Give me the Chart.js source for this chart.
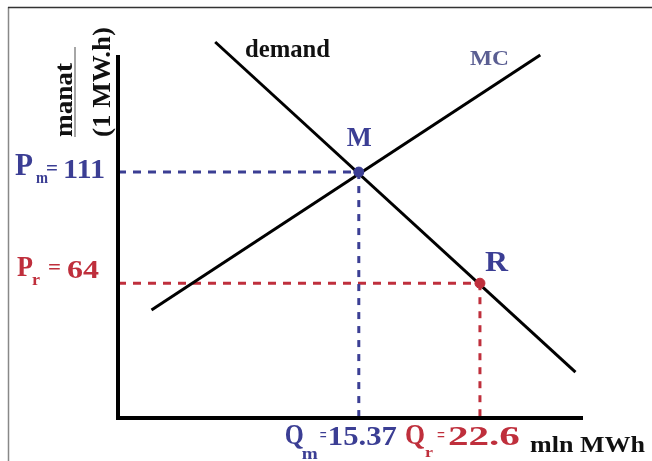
<!DOCTYPE html>
<html>
<head>
<meta charset="utf-8">
<script src="https://cdn.jsdelivr.net/npm/chart.js@4/dist/chart.umd.min.js"></script>
<style>
  html, body { margin: 0; padding: 0; background: #fff; }
  canvas { display: block; }
</style>
</head>
<body>
<canvas id="chart" width="652" height="461"></canvas>
<script>
// quantity (mln MWh) and price (manat per MW.h)
const axisOrigin = { q: 1, p: 7 };
const axisEnd = { q: 28.75, p: 160.5 };
const demandQ = [6.8, 28.3];
const demandP = [166, 26.4];
const mcQ = [3.0, 26.2];
const mcP = [52.7, 160.5];
const monopoly = { q: 15.37, p: 111 };   // M
const regulated = { q: 22.6, p: 64 };    // R

const BLUE = '#3b3e94';
const RED = '#bf2f3c';
const FONT = '"Liberation Serif", "DejaVu Serif", serif';

const pts = (qs, ps) => qs.map((q, i) => ({ x: q, y: ps[i] }));

const line = (data, color, width, dash) => ({
  data, showLine: true, borderColor: color, borderWidth: width,
  borderDash: dash || [], pointRadius: 0, clip: false, tension: 0,
  borderCapStyle: 'butt'
});

const dot = (p, color) => ({
  data: [{ x: p.q, y: p.p }], showLine: false, pointRadius: 5,
  pointBackgroundColor: color, pointBorderColor: color, clip: false
});

// text drawn at the scale positions
const labels = {
  id: 'labels',
  beforeDraw(chart) {
    const ctx = chart.ctx;
    ctx.save();
    ctx.lineWidth = 1.5;
    ctx.strokeStyle = '#888';
    ctx.beginPath(); ctx.moveTo(8.5, 7); ctx.lineTo(8.5, 461); ctx.stroke();
    ctx.strokeStyle = '#333';
    ctx.beginPath(); ctx.moveTo(8, 7.5); ctx.lineTo(652, 7.5); ctx.stroke();
    ctx.restore();
  },
  afterDraw(chart) {
    const ctx = chart.ctx;
    const xs = chart.scales.x, ys = chart.scales.y;
    const put = (t, size, color, x, base, w, rot) => {
      ctx.font = `bold ${size}px ${FONT}`;
      const m = ctx.measureText(t).width;
      ctx.save();
      ctx.translate(x, base);
      if (rot) ctx.rotate(-Math.PI / 2);
      ctx.scale(w ? w / m : 1, 1);
      ctx.fillStyle = color;
      ctx.textBaseline = 'alphabetic';
      ctx.fillText(t, 0, 0);
      ctx.restore();
    };
    const yM = ys.getPixelForValue(monopoly.p);
    const yR = ys.getPixelForValue(regulated.p);
    const xM = xs.getPixelForValue(monopoly.q);
    const xR = xs.getPixelForValue(regulated.q);
    const y0 = ys.getPixelForValue(axisOrigin.p);

    // price labels
    put('P', 31, BLUE, 15, yM + 3, 18);
    put('m', 16, BLUE, 36, yM + 11, 12);
    put('=', 22, BLUE, 46, yM + 3, 12);
    put('111', 28, BLUE, 63, yM + 6, 42);

    put('P', 30, RED, 17, yR - 7, 16);
    put('r', 16, RED, 32, yR + 2, 8);
    put('=', 22, RED, 48, yR - 9, 13);
    put('64', 26, RED, 67, yR - 5, 32);

    // quantity labels
    put('Q', 29, BLUE, xM - 74, y0 + 26, 19);
    put('m', 16, BLUE, xM - 57, y0 + 41, 16);
    put('=', 18, BLUE, xM - 39, y0 + 23, 7);
    put('15.37', 27, BLUE, xM - 31, y0 + 27, 69);

    put('Q', 29, RED, xR - 75, y0 + 26, 20);
    put('r', 15, RED, xR - 55, y0 + 39, 8);
    put('=', 18, RED, xR - 43, y0 + 23, 8);
    put('22.6', 27, RED, xR - 32, y0 + 27, 72);

    put('mln MWh', 23, '#111', 530, y0 + 34, 115);

    // curve and point names
    put('demand', 25, '#111', 245, 57, 85);
    put('MC', 22, '#5a5e92', 470, 65, 39);
    put('M', 28, BLUE, xM - 12, yM - 26, 25);
    put('R', 29, BLUE, xR + 5, yR - 12, 23);

    // vertical axis title as a fraction
    put('manat', 26, '#111', 72, 137, 74, true);
    ctx.save();
    ctx.strokeStyle = '#888';
    ctx.lineWidth = 1.5;
    ctx.beginPath(); ctx.moveTo(75, 47); ctx.lineTo(75, 137); ctx.stroke();
    ctx.restore();
    put('(1 MW.h)', 26, '#111', 110, 137, 110, true);
  }
};

new Chart(document.getElementById('chart'), {
  type: 'scatter',
  data: {
    datasets: [
      dot(monopoly, BLUE),
      dot(regulated, RED),
      line([{ x: axisOrigin.q, y: axisEnd.p }, { x: axisOrigin.q, y: axisOrigin.p }, { x: axisEnd.q, y: axisOrigin.p }], '#000', 4),
      line(pts(demandQ, demandP), '#000', 3),
      line(pts(mcQ, mcP), '#000', 3),
      line([{ x: axisOrigin.q, y: monopoly.p }, { x: monopoly.q, y: monopoly.p }], BLUE, 3, [8, 7]),
      line([{ x: monopoly.q, y: monopoly.p }, { x: monopoly.q, y: axisOrigin.p }], BLUE, 3, [7, 7]),
      line([{ x: axisOrigin.q, y: regulated.p }, { x: regulated.q, y: regulated.p }], RED, 3, [8, 7]),
      line([{ x: regulated.q, y: regulated.p }, { x: regulated.q, y: axisOrigin.p }], RED, 3, [7, 7])
    ]
  },
  options: {
    responsive: false,
    animation: false,
    layout: { padding: { left: 118, right: 69, top: 42, bottom: 43 } },
    plugins: { legend: { display: false }, tooltip: { enabled: false } },
    scales: {
      x: { type: 'linear', min: axisOrigin.q, max: axisEnd.q, display: false },
      y: { type: 'linear', min: axisOrigin.p, max: 166, display: false }
    }
  },
  plugins: [labels]
});
</script>
</body>
</html>
